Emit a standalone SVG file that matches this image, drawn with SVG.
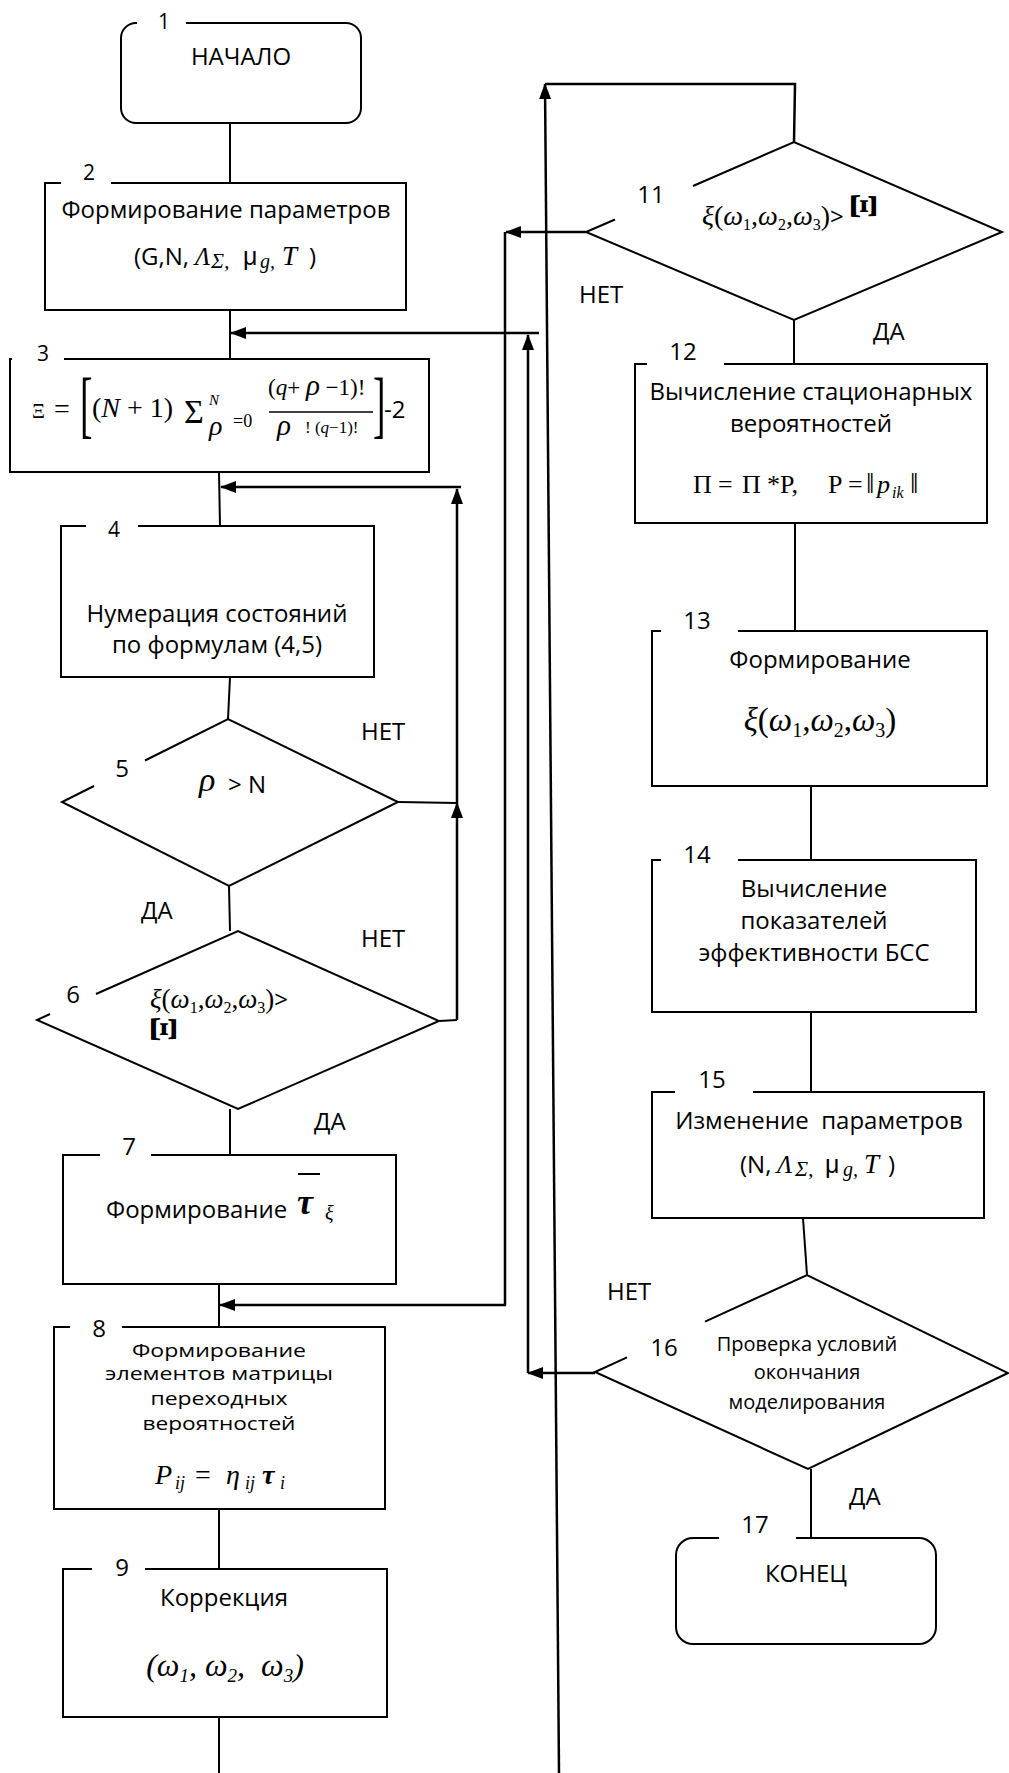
<svg xmlns="http://www.w3.org/2000/svg" width="1009" height="1773" viewBox="0 0 1009 1773">
<style>
.b{fill:none;stroke:#000;stroke-width:2}
.c{fill:none;stroke:#000;stroke-width:2}
.a{fill:none;stroke:#000;stroke-width:2.5;marker-end:url(#ah)}
.w{fill:none;stroke:#000;stroke-width:2.5}
text{fill:#000}
.t{font-family:"Open Sans",sans-serif;font-size:24px}
.ts{font-family:"Open Sans",sans-serif;font-size:20px}
.t8{font-family:"Open Sans",sans-serif;font-size:18px;text-anchor:middle}
.n{font-family:"Open Sans",sans-serif;font-size:24px;text-anchor:middle}
.n2{font-family:"Open Sans",sans-serif;font-size:21px;text-anchor:middle}
.mid{text-anchor:middle}
.m{font-family:"Liberation Serif",serif}
.i{font-style:italic}
.s{font-family:"Liberation Sans",sans-serif}
.dd{font-family:"Liberation Serif","DejaVu Serif",serif}
</style>
<defs>
<marker id="ah" viewBox="0 0 16 12" refX="15" refY="6" markerWidth="16" markerHeight="12" markerUnits="userSpaceOnUse" orient="auto"><path d="M0,0 L16,6 L0,12 z" fill="#000"/></marker>
</defs>
<rect width="1009" height="1773" fill="#fff"/>

<g id="connectors">
<path class="c" d="M230,123 V183"/>
<path class="c" d="M230,310 V359"/>
<path class="c" d="M219,472 L220,526"/>
<path class="c" d="M230,677 L228,719"/>
<path class="c" d="M229,886 L230,931"/>
<path class="c" d="M230,1109 V1155"/>
<path class="c" d="M219,1284 V1327"/>
<path class="c" d="M219,1509 V1569"/>
<path class="c" d="M219,1717 V1773"/>
<path class="c" d="M398,802 L457,803"/>
<path class="c" d="M439,1021 L457,1020"/>
<path class="a" d="M457,1020 V803"/>
<path class="a" d="M457,803 V489"/>
<path class="a" d="M461,487 H221"/>
<path class="a" d="M559,1773 L545,84"/>
<path class="w" d="M545,84 H795 L794,142"/>
<path class="a" d="M586,232 H506"/>
<path class="w" d="M505,232 V1305"/>
<path class="a" d="M506,1305 H220"/>
<path class="a" d="M595,1373 H528"/>
<path class="a" d="M528,1373 V335"/>
<path class="a" d="M539,333 H231"/>
<path class="c" d="M794,320 V364"/>
<path class="c" d="M795,523 V631"/>
<path class="c" d="M811,786 V860"/>
<path class="c" d="M811,1012 V1092"/>
<path class="c" d="M803,1218 L807,1275"/>
<path class="c" d="M811,1469 V1538"/>
<text class="t" x="361" y="740">НЕТ</text>
<text class="t" x="361" y="947">НЕТ</text>
<text class="t" x="141" y="919">ДА</text>
<text class="t" x="314" y="1130">ДА</text>
<text class="t" x="579" y="303">НЕТ</text>
<text class="t" x="873" y="340">ДА</text>
<text class="t" x="607" y="1300">НЕТ</text>
<text class="t" x="849" y="1505">ДА</text>
</g>

<g id="node1">
<path class="b" d="M186,23 H346 A15,15 0 0 1 361,38 V108 A15,15 0 0 1 346,123 H136 A15,15 0 0 1 121,108 V38 A15,15 0 0 1 136,23 H137"/>
<text class="n2" x="164" y="29">1</text>
<text class="t mid" x="241" y="65">НАЧАЛО</text>
</g>

<g id="node2">
<path class="b" d="M111,183 H406 V310 H45 V183 H61"/>
<text class="n2" x="89" y="180">2</text>
<text class="t mid" x="226" y="218">Формирование параметров</text>
<text y="265"><tspan class="t" x="134">(G,N,</tspan><tspan class="m i" x="195" font-size="25">Λ</tspan><tspan class="m i" x="211" dy="3" font-size="22">Σ,</tspan><tspan class="s" x="243" dy="-3" font-size="25">μ</tspan><tspan class="m i" x="260" dy="3" font-size="20">g,</tspan><tspan class="m i" x="282" dy="-3" font-size="27">T</tspan><tspan class="t" x="309">)</tspan></text>
</g>

<g id="node3">
<path class="b" d="M64,359 H429 V472 H10 V359 H12"/>
<text class="n2" x="43" y="361">3</text>
<text class="m" x="32" y="418" font-size="20">Ξ</text>
<text class="m" x="54" y="418" font-size="28">=</text>
<text class="m" transform="translate(80,429) scale(0.5,1)" font-size="75">[</text>
<text class="m" x="92" y="417" font-size="28">(<tspan class="i">N</tspan> + 1)</text>
<text class="m" x="184" y="423" font-size="34">Σ</text>
<text class="m i" x="209" y="405" font-size="15">N</text>
<text class="m i" x="209" y="435" font-size="28">ρ</text>
<text class="m" x="233" y="427" font-size="18">=0</text>
<text class="m" x="268" y="395" font-size="23">(<tspan class="i">q</tspan>+ <tspan class="i" font-size="29">ρ</tspan> −1)!</text>
<line x1="269" y1="412" x2="373" y2="412" stroke="#000" stroke-width="1.5"/>
<text class="m i" x="277" y="435" font-size="29">ρ</text>
<text class="m" x="305" y="433" font-size="17">! (<tspan class="i">q</tspan>−1)!</text>
<text class="m" transform="translate(373,429) scale(0.5,1)" font-size="75">]</text>
<text class="t" x="384" y="418">-2</text>
</g>

<g id="node4">
<path class="b" d="M138,526 H374 V677 H61 V526 H86"/>
<text class="n2" x="114" y="537">4</text>
<text class="t mid" x="217" y="622">Нумерация состояний</text>
<text class="t mid" x="217" y="653">по формулам (4,5)</text>
</g>

<g id="node5">
<path class="b" d="M145,760.5 L228,719 L398,802 L229,886 L62,802 L94,786"/>
<text class="n" x="122" y="777">5</text>
<text class="m i" x="199" y="791" font-size="34">ρ</text>
<text class="t" x="228" y="793">&gt; N</text>
</g>

<g id="node6">
<path class="b" d="M96,994 L238,931 L439,1021 L238,1109 L37,1020 L50,1014"/>
<text class="n" x="73" y="1003">6</text>
<text class="m" x="150" y="1008" font-size="27"><tspan class="i">ξ</tspan>(<tspan class="i">ω</tspan><tspan font-size="16" dy="5">1</tspan><tspan dy="-5">,</tspan><tspan class="i">ω</tspan><tspan font-size="16" dy="5">2</tspan><tspan dy="-5">,</tspan><tspan class="i">ω</tspan><tspan font-size="16" dy="5">3</tspan><tspan dy="-5">)</tspan><tspan class="t">&gt;</tspan></text>
<text class="m" transform="translate(164,1029) rotate(90)" text-anchor="middle" dominant-baseline="central" font-size="38" font-weight="bold">Ξ</text>
</g>

<g id="node7">
<path class="b" d="M151,1155 H396 V1284 H63 V1155 H100"/>
<text class="n" x="129" y="1155">7</text>
<text class="t" x="106" y="1218">Формирование</text>
<text class="m i" x="297" y="1214" font-size="36" font-weight="bold">τ</text>
<line x1="298" y1="1174" x2="320" y2="1174" stroke="#000" stroke-width="2"/>
<text class="m i" x="325" y="1220" font-size="20">ξ</text>
</g>

<g id="node8">
<path class="b" d="M122,1327 H385 V1509 H54 V1327 H70"/>
<text class="n" x="99" y="1337">8</text>
<text class="t8" x="219" y="1357" textLength="174" lengthAdjust="spacingAndGlyphs">Формирование</text>
<text class="t8" x="219" y="1380" textLength="228" lengthAdjust="spacingAndGlyphs">элементов матрицы</text>
<text class="t8" x="219" y="1405" textLength="137" lengthAdjust="spacingAndGlyphs">переходных</text>
<text class="t8" x="219" y="1430" textLength="153" lengthAdjust="spacingAndGlyphs">вероятностей</text>
<text class="m" y="1484" font-size="28"><tspan class="i" x="155">P</tspan><tspan class="i" x="175" dy="5" font-size="18">ij</tspan><tspan x="195" dy="-5">=</tspan><tspan class="i" x="226">η</tspan><tspan class="i" x="245" dy="5" font-size="18">ij</tspan><tspan class="i" x="262" dy="-5" font-weight="bold">τ</tspan><tspan class="i" x="280" dy="5" font-size="18">i</tspan></text>
</g>

<g id="node9">
<path class="b" d="M145,1569 H387 V1717 H63 V1569 H92"/>
<text class="n" x="122" y="1576">9</text>
<text class="t mid" x="224" y="1606">Коррекция</text>
<text class="m i mid" x="225" y="1676" font-size="32">(ω<tspan font-size="19" dy="6">1</tspan><tspan dy="-6">, ω</tspan><tspan font-size="19" dy="6">2</tspan><tspan dy="-6">,&#160; ω</tspan><tspan font-size="19" dy="6">3</tspan><tspan dy="-6">)</tspan></text>
</g>

<g id="node11">
<path class="b" d="M693,186 L794,142 L1002,232 L794,320 L586,232 L615,219.5"/>
<text class="n" x="651" y="203">11</text>
<text class="m" x="702" y="225" font-size="28"><tspan class="i">ξ</tspan>(<tspan class="i">ω</tspan><tspan font-size="16" dy="5">1</tspan><tspan dy="-5">,</tspan><tspan class="i">ω</tspan><tspan font-size="16" dy="5">2</tspan><tspan dy="-5">,</tspan><tspan class="i">ω</tspan><tspan font-size="16" dy="5">3</tspan><tspan dy="-5">)</tspan><tspan class="t">&gt;</tspan></text>
<text class="m" transform="translate(864,206) rotate(90)" text-anchor="middle" dominant-baseline="central" font-size="38" font-weight="bold">Ξ</text>
</g>

<g id="node12">
<path class="b" d="M724,364 H987 V523 H635 V364 H647"/>
<text class="n" x="683" y="360">12</text>
<text class="t mid" x="811" y="400">Вычисление стационарных</text>
<text class="t mid" x="811" y="432">вероятностей</text>
<text class="m" y="493" font-size="26"><tspan x="693">Π</tspan><tspan x="718">=</tspan><tspan x="742">Π</tspan><tspan x="767">*</tspan><tspan x="780">P,</tspan><tspan x="828">P</tspan><tspan x="848">=</tspan><tspan class="dd" x="866" font-size="30">‖</tspan><tspan class="i" x="877">p</tspan><tspan class="i" x="892" dy="5" font-size="16">ik</tspan><tspan class="dd" x="910" dy="-5" font-size="30">‖</tspan></text>
</g>

<g id="node13">
<path class="b" d="M738,631 H987 V786 H652 V631 H661"/>
<text class="n" x="697" y="629">13</text>
<text class="t mid" x="820" y="668">Формирование</text>
<text class="m mid" x="820" y="731" font-size="33"><tspan class="i">ξ</tspan>(<tspan class="i">ω</tspan><tspan font-size="20" dy="6">1</tspan><tspan dy="-6">,</tspan><tspan class="i">ω</tspan><tspan font-size="20" dy="6">2</tspan><tspan dy="-6">,</tspan><tspan class="i">ω</tspan><tspan font-size="20" dy="6">3</tspan><tspan dy="-6">)</tspan></text>
</g>

<g id="node14">
<path class="b" d="M738,860 H976 V1012 H652 V860 H661"/>
<text class="n" x="697" y="863">14</text>
<text class="t mid" x="814" y="897">Вычисление</text>
<text class="t mid" x="814" y="929">показателей</text>
<text class="t mid" x="814" y="961">эффективности БСС</text>
</g>

<g id="node15">
<path class="b" d="M753,1092 H984 V1218 H652 V1092 H675"/>
<text class="n" x="712" y="1088">15</text>
<text class="t mid" x="819" y="1129">Изменение&#160; параметров</text>
<text y="1173"><tspan class="t" x="740">(N,</tspan><tspan class="m i" x="777" font-size="25">Λ</tspan><tspan class="m i" x="795" dy="3" font-size="22">Σ,</tspan><tspan class="s" x="825" dy="-3" font-size="25">μ</tspan><tspan class="m i" x="843" dy="3" font-size="20">g,</tspan><tspan class="m i" x="864" dy="-3" font-size="27">T</tspan><tspan class="t" x="888">)</tspan></text>
</g>

<g id="node16">
<path class="b" d="M705,1321.7 L807,1275 L1008,1373 L808,1469 L595,1372 L627,1357.4"/>
<text class="n" x="664" y="1356">16</text>
<text class="ts mid" x="807" y="1351">Проверка условий</text>
<text class="ts mid" x="807" y="1379">окончания</text>
<text class="ts mid" x="807" y="1409">моделирования</text>
</g>

<g id="node17">
<path class="b" d="M796,1538 H919 A17,17 0 0 1 936,1555 V1627 A17,17 0 0 1 919,1644 H693 A17,17 0 0 1 676,1627 V1555 A17,17 0 0 1 693,1538 H719"/>
<text class="n" x="755" y="1533">17</text>
<text class="t mid" x="806" y="1582">КОНЕЦ</text>
</g>
</svg>
